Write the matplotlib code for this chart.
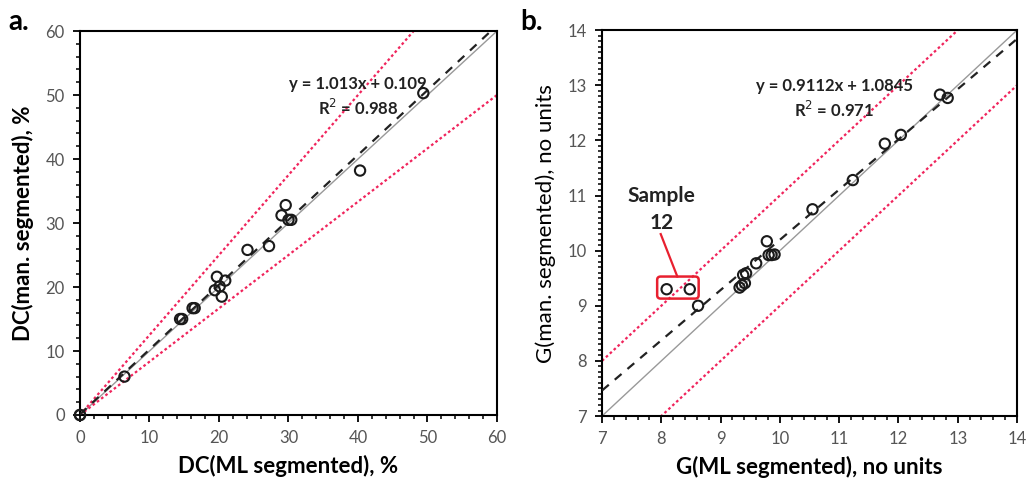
import matplotlib
matplotlib.use("Agg")
import matplotlib.pyplot as plt
import numpy as np
from matplotlib.patches import FancyBboxPatch
from matplotlib.ticker import MultipleLocator

plt.rcParams['font.family'] = ['Lato', 'DejaVu Sans']

# Panel a: degree of crystallinity
dc_ml = [0, 0, 6.4, 14.4, 14.7, 16.2, 16.5, 19.7, 19.4, 20.1, 20.9, 20.4,
         24.1, 27.2, 29.0, 29.6, 30.0, 30.4, 40.3, 49.4]
dc_man = [0, 0, 6.0, 15.0, 15.0, 16.7, 16.7, 21.6, 19.5, 20.1, 21.0, 18.5,
          25.8, 26.4, 31.2, 32.8, 30.5, 30.5, 38.2, 50.3]
dc_fit = (1.013, 0.109)
dc_r2 = 0.988

# Panel b: grain size number
g_ml = [8.09, 8.48, 8.62, 9.32, 9.36, 9.38, 9.43, 9.41, 9.60, 9.78, 9.81,
        9.86, 9.91, 10.55, 11.23, 11.77, 12.04, 12.70, 12.83]
g_man = [9.30, 9.30, 9.00, 9.33, 9.37, 9.56, 9.59, 9.41, 9.77, 10.17, 9.92,
         9.92, 9.93, 10.75, 11.28, 11.94, 12.10, 12.83, 12.77]
g_fit = (0.9112, 1.0845)
g_r2 = 0.971

RED = '#f0245c'
TICK_GRAY = '#555555'

fig = plt.figure(figsize=(10.27, 4.86), dpi=100)
ax1 = fig.add_axes([0.0779, 0.1461, 0.406, 0.790])
ax2 = fig.add_axes([0.5862, 0.1440, 0.4041, 0.794])


def style_axis(ax, lo, hi, major, minor_x, minor_y):
    ax.set_xlim(lo, hi)
    ax.set_ylim(lo, hi)
    ax.xaxis.set_major_locator(MultipleLocator(major))
    ax.yaxis.set_major_locator(MultipleLocator(major))
    ax.xaxis.set_minor_locator(MultipleLocator(minor_x))
    ax.yaxis.set_minor_locator(MultipleLocator(minor_y))
    ax.tick_params(which='major', direction='out', length=5, width=1.3,
                   color='black', labelsize=12, labelcolor=TICK_GRAY, pad=6)
    ax.tick_params(which='minor', direction='out', length=3, width=1.1,
                   color='black')
    for sp in ax.spines.values():
        sp.set_linewidth(1.5)


# ---- panel a ----
x = np.array([0, 60])
ax1.plot(x, x, color='#999999', lw=1.0, zorder=1)
ax1.plot(x, x / 0.8, color=RED, lw=1.6, ls=(0, (1.2, 1.2)), zorder=2)
ax1.plot(x, x / 1.2, color=RED, lw=1.6, ls=(0, (1.2, 1.2)), zorder=2)
ax1.plot(x, dc_fit[0] * x + dc_fit[1], color='#222222', lw=1.6,
         ls=(0, (4, 3.5)), zorder=3)
ax1.scatter(dc_ml, dc_man, s=55, facecolors='none', edgecolors='#1a1a1a',
            linewidths=1.5, zorder=4, clip_on=False)
style_axis(ax1, 0, 60, 10, 2, 2)
ax1.text(0.667, 0.862, f'y = {dc_fit[0]:.3f}x + {dc_fit[1]:.3f}',
         transform=ax1.transAxes, ha='center', va='center', fontsize=12,
         fontweight='bold', color='#222222')
ax1.text(0.667, 0.800, f'R$^2$ = {dc_r2:.3f}', transform=ax1.transAxes,
         ha='center', va='center', fontsize=12, fontweight='bold',
         color='#222222')
ax1.set_xlabel('DC(ML segmented), %', fontsize=16, fontweight='bold',
               labelpad=6)
ax1.set_ylabel('DC(man. segmented), %', fontsize=16, fontweight='bold',
               labelpad=8)

# ---- panel b ----
x = np.array([7, 14])
ax2.plot(x, x, color='#999999', lw=1.0, zorder=1)
ax2.plot(x, x + 1, color=RED, lw=1.6, ls=(0, (1.2, 1.2)), zorder=2)
ax2.plot(x, x - 1, color=RED, lw=1.6, ls=(0, (1.2, 1.2)), zorder=2)
ax2.plot(x, g_fit[0] * x + g_fit[1], color='#222222', lw=1.6,
         ls=(0, (4, 3.5)), zorder=3)
ax2.scatter(g_ml, g_man, s=55, facecolors='none', edgecolors='#1a1a1a',
            linewidths=1.5, zorder=4)
style_axis(ax2, 7, 14, 1, 0.2, 0.1)
ax2.text(0.56, 0.856, f'y = {g_fit[0]:.4f}x + {g_fit[1]:.4f}',
         transform=ax2.transAxes, ha='center', va='center', fontsize=12,
         fontweight='bold', color='#222222')
ax2.text(0.56, 0.794, f'R$^2$ = {g_r2:.3f}', transform=ax2.transAxes,
         ha='center', va='center', fontsize=12, fontweight='bold',
         color='#222222')
ax2.set_xlabel('G(ML segmented), no units', fontsize=16, fontweight='bold',
               labelpad=6)
ax2.set_ylabel('G(man. segmented), no units', fontsize=16, labelpad=8)

# Sample 12 callout
box = FancyBboxPatch((7.93, 9.13), 0.70, 0.40,
                     boxstyle='round,pad=0,rounding_size=0.06',
                     fill=False, edgecolor='#e8202f', lw=1.8, zorder=5)
ax2.add_patch(box)
ax2.plot([8.27, 7.99], [9.53, 10.30], color='#e8202f', lw=1.6, zorder=5)
ax2.text(8.0, 10.74, 'Sample\n12', ha='center', va='center', fontsize=15,
         fontweight='bold', color='#222222', linespacing=1.45)

# panel letters
fig.text(0.008, 0.955, 'a.', fontsize=20, fontweight='bold', va='center')
fig.text(0.507, 0.955, 'b.', fontsize=20, fontweight='bold', va='center')

fig.savefig('out.png', dpi=100)
